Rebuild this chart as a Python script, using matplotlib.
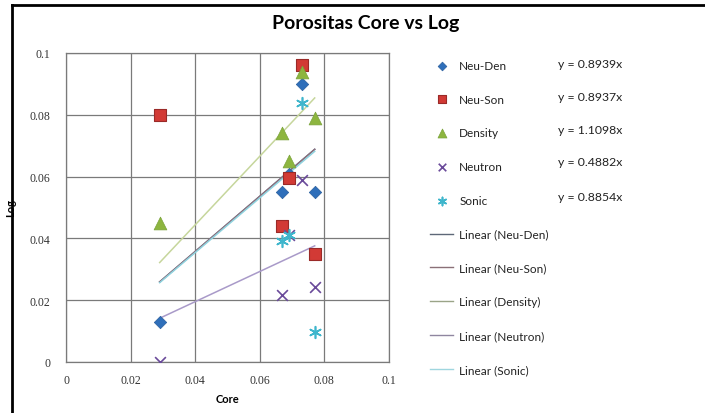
import numpy as np
import matplotlib.pyplot as plt
from matplotlib.lines import Line2D

# core porosity of the five samples
core = [0.029, 0.067, 0.069, 0.073, 0.077]

# log porosity per method
neu_den = [0.013, 0.055, 0.061, 0.090, 0.055]
neu_son = [0.080, 0.044, 0.0595, 0.096, 0.035]
density = [0.045, 0.074, 0.065, 0.094, 0.079]
neutron = [0.000, 0.0216, 0.041, 0.059, 0.0242]
sonic_x = [0.067, 0.069, 0.073, 0.077]
sonic = [0.0393, 0.041, 0.0837, 0.0097]

# slopes of the linear trends through the origin
names = ['Neu-Den', 'Neu-Son', 'Density', 'Neutron', 'Sonic']
slopes = [0.8939, 0.8937, 1.1098, 0.4882, 0.8854]

ticks = [0, 0.02, 0.04, 0.06, 0.08, 0.1]
tick_labels = ['0', '0.02', '0.04', '0.06', '0.08', '0.1']

W, H = 705, 414
fig = plt.figure(figsize=(W / 100, H / 100), dpi=100)
ax = fig.add_axes([66 / W, 1 - 363 / H, (389 - 66) / W, (363 - 54) / H])

sans = ['Lato', 'DejaVu Sans']
serif = ['Liberation Serif', 'DejaVu Serif']

# trend lines
line_cols = ['#4f6d8f', '#8f6f7a', '#c6d69c', '#a99ac9', '#8fd3df']
legend_cols = ['#5e6878', '#8a7077', '#9aa488', '#8f86a0', '#9fd6df']
xs = np.array([min(core), max(core)])
trend_handles = []
for name, k, c, lc in zip(names, slopes, line_cols, legend_cols):
    ax.plot(xs, k * xs, color=c, lw=1.1, zorder=2)
    trend_handles.append(Line2D([], [], color=lc, lw=1.0, label='Linear (%s)' % name))

# scatter series
h1 = ax.scatter(core, neu_den, marker='D', s=40, color='#2f6fba', edgecolors='#2a5f9e',
                linewidths=0.5, zorder=3, label='Neu-Den')
h2 = ax.scatter(core, neu_son, marker='s', s=70, color='#d23a35', edgecolors='#9a2a28',
                linewidths=0.8, zorder=3, label='Neu-Son')
h3 = ax.scatter(core, density, marker='^', s=85, color='#8db53f', edgecolors='#7aa33a',
                linewidths=0.5, zorder=3, label='Density')
h4 = ax.scatter(core, neutron, marker='x', s=60, color='#6a4a9a', linewidths=1.2,
                zorder=3, label='Neutron')
h5 = ax.scatter(sonic_x, sonic, marker=(6, 2, 0), s=70, color='#3fb6cc', linewidths=1.2,
                zorder=3, label='Sonic')

ax.set_xlim(0, 0.1)
ax.set_ylim(0, 0.1)
ax.set_xticks(ticks)
ax.set_xticklabels(tick_labels, family=serif, fontsize=8.5, color='#333333')
ax.set_yticks(ticks)
ax.set_yticklabels(tick_labels, family=serif, fontsize=8.5, color='#333333')
ax.tick_params(length=0)
ax.tick_params(axis='x', pad=9)
ax.tick_params(axis='y', pad=11)
ax.grid(True, color='#7a7a7a', lw=0.9, zorder=0)
for s in ax.spines.values():
    s.set_color('#7a7a7a')
    s.set_linewidth(0.9)

ax.set_xlabel('Core', family=sans, fontsize=8, fontweight='bold', labelpad=5)
ax.set_ylabel('Log', family=sans, fontsize=8, fontweight='bold', labelpad=10)

fig.text(366 / W, 1 - 23 / H, 'Porositas Core vs Log', family=sans, fontsize=14,
         fontweight='bold', ha='center', va='center')

# legend on the right
leg = fig.legend(handles=[h1, h2, h3, h4, h5] + trend_handles,
                 loc='upper left', bbox_to_anchor=(425 / W, 1 - 56 / H),
                 frameon=False, prop={'family': sans, 'size': 8.5},
                 labelspacing=1.93, handlelength=2.0, handletextpad=0.5,
                 scatterpoints=1, markerscale=0.7, borderaxespad=0)
for t in leg.get_texts():
    t.set_color('#222222')

eq_y = [64, 98, 131, 163, 198]
for k, y in zip(slopes, eq_y):
    fig.text(622 / W, 1 - y / H, 'y = %.4fx' % k, family=sans, fontsize=8.8,
             ha='right', va='center', color='#222222')

# chart border
fig.add_artist(Line2D([12 / W, 12 / W], [0, 1 - 6 / H], transform=fig.transFigure,
                      color='black', lw=2))
fig.add_artist(Line2D([12 / W, 1], [1 - 6 / H, 1 - 6 / H], transform=fig.transFigure,
                      color='black', lw=2))

fig.savefig('out.png', dpi=100)
